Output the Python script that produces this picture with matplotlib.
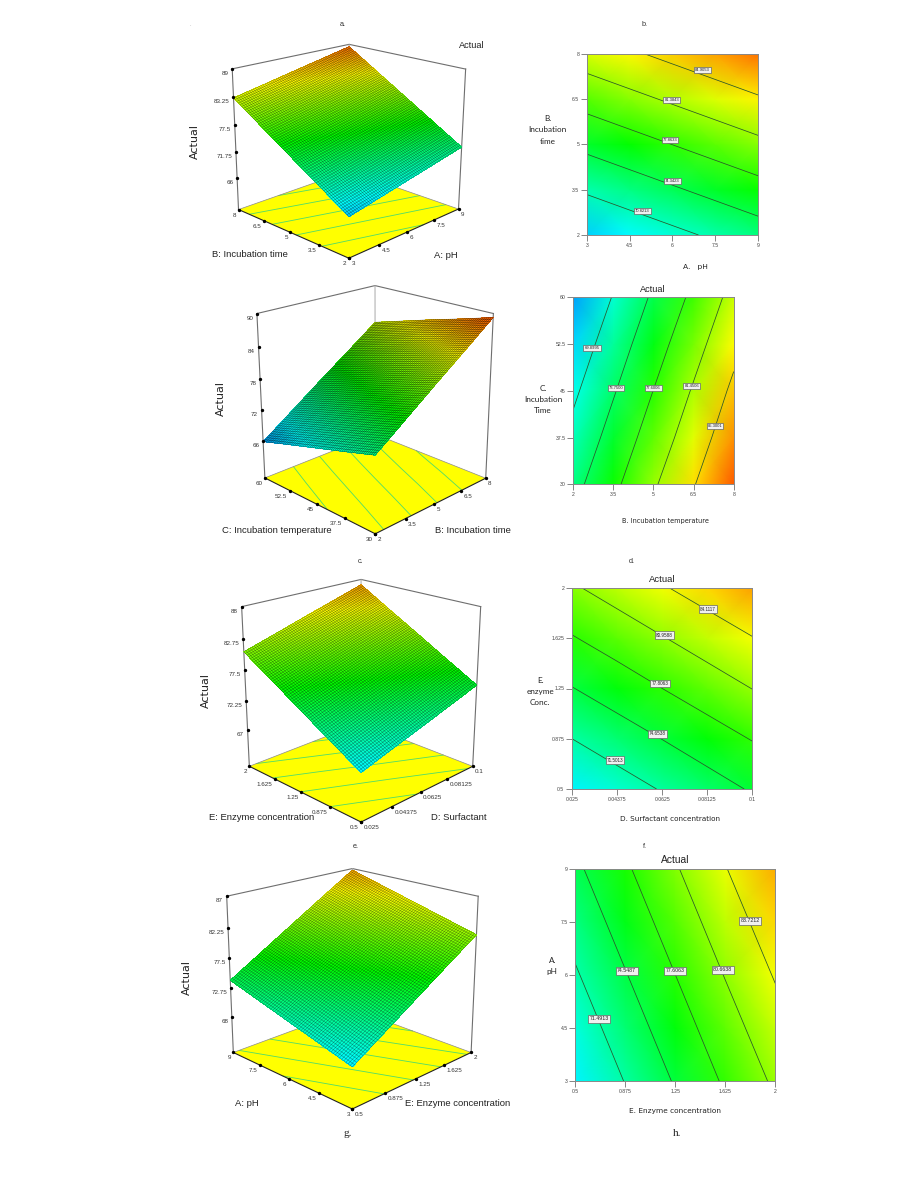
import logging
import numpy as np
import matplotlib
matplotlib.use("Agg")
import matplotlib.pyplot as plt
import matplotlib.tri as mtri
from matplotlib.colors import LinearSegmentedColormap, Normalize
from mpl_toolkits.mplot3d import proj3d
from mpl_toolkits.mplot3d.art3d import Poly3DCollection, Line3DCollection

logging.getLogger("matplotlib.font_manager").setLevel(logging.ERROR)

W, H = 903, 1179
NARROW = ["Liberation Sans Narrow", "Liberation Sans"]

# ---------- data ----------
ph_ticks = [3, 4.5, 6, 7.5, 9]
time_ticks = [2, 3.5, 5, 6.5, 8]
temp_ticks = [30, 37.5, 45, 52.5, 60]
surf_ticks = [0.025, 0.04375, 0.0625, 0.08125, 0.1]
enz_ticks = [0.5, 0.875, 1.25, 1.625, 2]

# rows follow the y factor, columns follow the x factor
z_ph_time = [[67.3, 68.65, 70.0, 71.35, 72.7],
             [71.25, 72.6, 73.95, 75.3, 76.65],
             [75.2, 76.55, 77.9, 79.25, 80.6],
             [79.15, 80.5, 81.85, 83.2, 84.55],
             [83.1, 84.45, 85.8, 87.15, 88.5]]
z_time_temp = [[72.6, 76.8, 81.0, 85.1, 89.3],
               [70.9, 75.1, 79.3, 83.4, 87.6],
               [69.25, 73.45, 77.65, 81.8, 86.0],
               [67.6, 71.8, 76.0, 80.1, 84.3],
               [65.9, 70.1, 74.3, 78.4, 82.6]]
z_surf_enz = [[68.5, 70.1, 71.7, 73.3, 74.95],
              [71.5, 73.1, 74.7, 76.35, 77.95],
              [74.55, 76.15, 77.8, 79.4, 81.0],
              [77.6, 79.2, 80.8, 82.4, 84.0],
              [80.6, 82.2, 83.85, 85.45, 87.05]]
z_enz_ph = [[68.4, 71.6, 74.8, 78.0, 81.15],
            [69.8, 73.0, 76.2, 79.4, 82.55],
            [71.2, 74.4, 77.6, 80.8, 83.95],
            [72.6, 75.8, 79.0, 82.2, 85.35],
            [74.0, 77.2, 80.4, 83.6, 86.75]]

levels_b = [70.8213, 74.3423, 77.8633, 81.3843, 84.9053]
levels_d = [69.8995, 73.7500, 77.6006, 81.4506, 85.3001]
levels_f = [71.5013, 74.6538, 77.8063, 80.9588, 84.1117]
levels_h = [71.4913, 74.5487, 77.6063, 80.6638, 83.7212]

label_x_b = [4.94, 5.99, 5.91, 5.97, 7.05]
label_y_b = [2.8, 3.79, 5.14, 6.48, 7.45]
label_x_d = [2.70, 3.60, 4.99, 6.43, 7.30]
label_y_d = [51.9, 45.5, 45.5, 45.7, 39.4]
label_x_f = [0.0429, 0.0606, 0.0616, 0.0634, 0.0816]
label_y_f = [0.716, 0.911, 1.286, 1.649, 1.843]
label_x_h = [0.678, 0.886, 1.248, 1.606, 1.81]
label_y_h = [4.76, 6.11, 6.11, 6.14, 7.53]

ztick_a = [66, 71.75, 77.5, 83.25, 89]
ztick_c = [66, 72, 78, 84, 90]
ztick_e = [67, 72.25, 77.5, 82.75, 88]
ztick_g = [68, 72.75, 77.5, 82.25, 87]

# ---------- shared style ----------
cmap = LinearSegmentedColormap.from_list(
    "de", ["#0000ff", "#00ffff", "#00ff00", "#ffff00", "#ff0000"])
norm = Normalize(61, 92)

fig = plt.figure(figsize=(W / 100, H / 100), dpi=100)


def fig_rect(left, top, width, height):
    return [left / W, 1 - (top + height) / H, width / W, height / H]


def fig_text(x, y, s, **kw):
    kw.setdefault("ha", "center")
    kw.setdefault("va", "center")
    fig.text(x / W, 1 - y / H, s, **kw)


def camera(ax, anchors, xr, yr, zr):
    """Projection of the box onto the page from its visible corners."""
    ax.apply_aspect()
    inv = ax.transData.inverted()
    unit = {"F": (0, 0, 0), "R": (1, 0, 0), "L": (0, 1, 0), "B": (1, 1, 0),
            "TL": (0, 1, 1), "TB": (1, 1, 1), "TR": (1, 0, 1)}
    A, b = [], []
    for key, (px, py) in anchors.items():
        sx, sy = inv.transform((px, H - py))
        u, v, t = unit[key]
        A.append([u, v, t, 1, 0, 0, 0, 0, -sx * u, -sx * v, -sx * t])
        A.append([0, 0, 0, 0, u, v, t, 1, -sy * u, -sy * v, -sy * t])
        b += [sx, sy]
    p = np.linalg.lstsq(np.array(A), np.array(b), rcond=None)[0]
    rows = np.array([p[:4], p[4:8], [1, 1, -1, -3], [p[8], p[9], p[10], 1.0]])
    to_unit = np.array([[1 / (xr[1] - xr[0]), 0, 0, -xr[0] / (xr[1] - xr[0])],
                        [0, 1 / (yr[1] - yr[0]), 0, -yr[0] / (yr[1] - yr[0])],
                        [0, 0, 1 / (zr[1] - zr[0]), -zr[0] / (zr[1] - zr[0])],
                        [0, 0, 0, 1.0]])
    M = rows @ to_unit
    ax.get_proj = lambda: M
    ax.M = M
    return M


def panel3d(box, anchors, xt, yt, zt, floor, z, levels, wire_alpha):
    ax = fig.add_axes(fig_rect(box[0], box[1], box[2], box[2]), projection="3d")
    ax.set_axis_off()
    ax.patch.set_visible(False)
    ax.computed_zorder = False
    ax.set_proj_type("ortho")
    xr, yr = (xt[0], xt[-1]), (yt[0], yt[-1])
    zr = (floor, zt[-1])
    M = camera(ax, anchors, xr, yr, zr)

    base = [[(xr[0], yr[0], floor), (xr[1], yr[0], floor),
             (xr[1], yr[1], floor), (xr[0], yr[1], floor)]]
    ax.add_collection3d(Poly3DCollection(base, facecolors="#ffff00",
                                         edgecolors="none", zorder=1))
    X, Y = np.meshgrid(xt, yt)
    Z = np.array(z)
    cs = ax.contour(X, Y, Z, levels=levels, zdir="z", offset=floor,
                    colors="#4fdc6a", linewidths=0.6, zorder=2)
    cs.set_zorder(2)

    # grey back of the box
    grey = dict(color="#6e6e6e", lw=0.8, zorder=3)
    ax.plot([xr[0], xr[1], xr[1]], [yr[1], yr[1], yr[0]], [zr[1]] * 3, **grey)
    ax.plot([xr[0], xr[0]], [yr[1], yr[1]], zr, **grey)
    ax.plot([xr[1], xr[1]], [yr[0], yr[0]], zr, **grey)
    ax.plot([xr[1], xr[1]], [yr[1], yr[1]], zr, color="#a8a8a8", lw=0.7, zorder=3)
    ax.plot([xr[0], xr[1], xr[1]], [yr[1], yr[1], yr[0]], [floor] * 3,
            color="#8a8a8a", lw=0.5, zorder=3)

    # response surface, on a mesh refined by matplotlib
    tri = mtri.Triangulation(X.ravel(), Y.ravel())
    refiner = mtri.UniformTriRefiner(tri)
    fine, zfine = refiner.refine_field(
        Z.ravel(), triinterpolator=mtri.LinearTriInterpolator(tri, Z.ravel()),
        subdiv=4)
    surf = ax.plot_trisurf(fine, zfine, cmap=cmap, norm=norm,
                           linewidth=0, edgecolor="none",
                           antialiased=False, zorder=5)
    surf.set_zorder(5)

    # wire mesh over the surface: the refined nodes joined along each factor
    segs = []
    px = np.round((fine.x - xr[0]) / (xr[1] - xr[0]), 6)
    py = np.round((fine.y - yr[0]) / (yr[1] - yr[0]), 6)
    for key, other in ((px, py), (py, px)):
        for val in np.unique(key):
            idx = np.where(key == val)[0]
            idx = idx[np.argsort(other[idx])]
            segs.append(np.column_stack([fine.x[idx], fine.y[idx], zfine[idx]]))
    wire = Line3DCollection(segs, colors=[(0, 0, 0, wire_alpha)], linewidths=0.4, zorder=6)
    ax.add_collection3d(wire)
    wire.set_zorder(6)

    # front edges, ticks and tick labels
    ax.plot([xr[1], xr[0], xr[0]], [yr[0], yr[0], yr[1]], [floor] * 3,
            color="#222222", lw=0.8, zorder=6)
    tk = dict(ls="none", marker="o", ms=1.4, color="black", zorder=7)
    ax.plot(xt, [yr[0]] * 5, [floor] * 5, **tk)
    ax.plot([xr[0]] * 5, yt, [floor] * 5, **tk)
    ax.plot([xr[0]] * 5, [yr[1]] * 5, zt, **tk)

    font = dict(family=NARROW, fontsize=4.5, color="#333333", zorder=8,
                annotation_clip=False, xycoords="data", textcoords="offset points",
                va="center")

    def tick_label(x, y, zz, s, dx, dy, ha):
        sx, sy, _ = proj3d.proj_transform(x, y, zz, M)
        ax.annotate(s, xy=(sx, sy), xytext=(dx * 0.72, dy * 0.72), ha=ha, **font)

    for v in xt:
        tick_label(v, yr[0], floor, f"{v:g}", 2.5, -5.5, "left")
    for v in yt:
        tick_label(xr[0], v, floor, f"{v:g}", -2.5, -5.5, "right")
    for v in zt:
        tick_label(xr[0], yr[1], v, f"{v:g}", -3.5, -4.5, "right")
    ax.set_xlim(*xr)
    ax.set_ylim(*yr)
    ax.set_zlim(*zr)


def panel2d(rect, xt, yt, z, levels, lab_x, lab_y, lab_size):
    ax = fig.add_axes(fig_rect(rect[0], rect[1], rect[2] - rect[0], rect[3] - rect[1]))
    ax.pcolormesh(xt, yt, np.array(z), shading="gouraud", cmap=cmap, norm=norm)
    ax.contour(xt, yt, np.array(z), levels=levels, colors="#2a552a", linewidths=0.55)
    for lx, ly, lv in zip(lab_x, lab_y, levels):
        ax.text(lx, ly, f"{lv:.4f}", family=NARROW, fontsize=lab_size, color="#222222",
                ha="center", va="center",
                bbox=dict(boxstyle="square,pad=0.25", fc="#f0f0f0", ec="#666666", lw=0.5))
    ax.set_xticks(xt, [f"{v:g}" for v in xt])
    ax.set_yticks(yt, [f"{v:g}" for v in yt])
    ax.tick_params(length=4, width=0.5, color="#555555", labelcolor="#444444",
                   labelsize=3.7, pad=1.5)
    for t in ax.get_xticklabels() + ax.get_yticklabels():
        t.set_family(NARROW)
    ax.set_xlim(xt[0], xt[-1])
    ax.set_ylim(yt[0], yt[-1])
    for side in ax.spines.values():
        side.set_color("#888888")
        side.set_linewidth(0.7)


# ---------- surface panels ----------
panel3d((190, 0, 320),
        dict(L=(238.3, 209.3), F=(349, 258.3), R=(458.3, 209), B=(349, 171),
             TL=(232.3, 69), TB=(349, 44.3), TR=(465.7, 69)),
        ph_ticks, time_ticks, ztick_a, 59.0, z_ph_time, levels_b, 0.42)
panel3d((200, 270, 320),
        dict(L=(265, 476.7), F=(375, 535), R=(486, 476.7), B=(375, 435.7),
             TL=(257, 313.7), TB=(375, 285), TR=(493.3, 314)),
        time_ticks, temp_ticks, ztick_c, 58.6, z_time_temp, levels_d, 0.55)
panel3d((190, 560, 320),
        dict(L=(249.3, 766), F=(361, 822.3), R=(472.7, 766), B=(361, 723.3),
             TL=(241.7, 606.7), TB=(361, 579.3), TR=(480.7, 606.7)),
        surf_ticks, enz_ticks, ztick_e, 60.5, z_surf_enz, levels_f, 0.42)
panel3d((170, 850, 330),
        dict(L=(233.3, 1053.3), F=(352.3, 1108.3), R=(471, 1053.3), B=(352.3, 1007.7),
             TL=(226.7, 896), TB=(352.3, 869), TR=(478.3, 896)),
        enz_ticks, ph_ticks, ztick_g, 62.2, z_enz_ph, levels_h, 0.4)

# ---------- contour panels ----------
panel2d((587, 53.7, 758, 235), ph_ticks, time_ticks, z_ph_time, levels_b,
        label_x_b, label_y_b, 3.0)
panel2d((573.3, 297.3, 733.7, 484.3), time_ticks, temp_ticks, z_time_temp, levels_d,
        label_x_d, label_y_d, 3.0)
panel2d((572, 588, 752.3, 789), surf_ticks, enz_ticks, z_surf_enz, levels_f,
        label_x_f, label_y_f, 3.3)
panel2d((575.3, 868.7, 775.3, 1081), enz_ticks, ph_ticks, z_enz_ph, levels_h,
        label_x_h, label_y_h, 3.8)

# ---------- page text ----------
lab3d = dict(family=NARROW, fontsize=6.8, color="#222222")
for x, y, s in [(250.3, 254.7, "B: Incubation time"), (446.3, 255, "A: pH"),
                (277.3, 530.7, "C: Incubation temperature"), (473.3, 530.7, "B: Incubation time"),
                (261.7, 818, "E: Enzyme concentration"), (459.3, 818, "D: Surfactant"),
                (246.7, 1103.3, "A: pH"), (457.3, 1103.3, "E: Enzyme concentration")]:
    fig_text(x, y, s, **lab3d)
for x, y in [(195, 141.7), (220.7, 398.3), (205.7, 690), (186.7, 977.3)]:
    fig_text(x, y, "Actual", rotation=90, fontsize=8, color="#222222", fontweight="medium")
for x, y, size in [(472, 45, 6.6), (653, 289, 6.6), (662, 579, 6.8), (675, 860, 7.4)]:
    fig_text(x, y, "Actual", family=NARROW, fontsize=size, color="#222222")

side = dict(family="Lato", fontsize=5.9, color="#222222", linespacing=1.7, multialignment="center")
fig_text(547.7, 130, "B.\nIncubation\ntime", **side)
fig_text(543, 399.3, "C.\nIncubation\nTime", **side)
fig_text(540, 691.7, "E.\nenzyme\nConc.", **side)
fig_text(552.3, 965.7, "A.\npH", **side)

under = dict(family="DejaVu Sans", color="#222222")
fig_text(695, 267, "A.   pH", fontsize=5.4, **under)
fig_text(665, 520.7, "B. Incubation temperature", fontsize=4.7, **under)
fig_text(670, 819.3, "D. Surfactant concentration", fontsize=5.2, **under)
fig_text(675, 1111.3, "E. Enzyme concentration", fontsize=5.3, **under)

small = dict(family="Liberation Sans", fontsize=5.2, color="#333333")
for x, y, s in [(343, 25, "a."), (645, 25, "b."), (361, 562, "c."), (632, 562, "d."),
                (356, 846, "e."), (645, 846, "f.")]:
    fig_text(x, y, s, **small)
fig_text(190, 25, ".", family="Liberation Sans", fontsize=4, color="#999999")
fig_text(348, 1133, "g.", family="Liberation Serif", fontsize=8, color="#222222")
fig_text(677, 1133, "h.", family="Liberation Serif", fontsize=8, color="#222222")

fig.savefig("out.png", dpi=100)
